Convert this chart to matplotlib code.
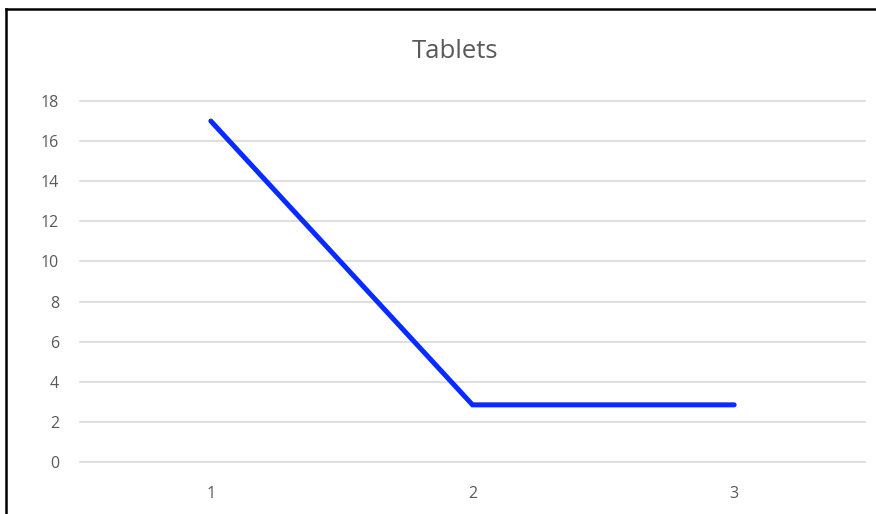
import matplotlib
matplotlib.use("Agg")
import matplotlib.pyplot as plt
from matplotlib.lines import Line2D

categories = ["1", "2", "3"]
values = [17, 2.85, 2.85]
yticks = [0, 2, 4, 6, 8, 10, 12, 14, 16, 18]

plt.rcParams['font.family'] = ['Open Sans', 'DejaVu Sans']

W, H = 876, 514
fig = plt.figure(figsize=(W / 100, H / 100), dpi=100)
ax = fig.add_axes([80 / W, 1 - 462 / H, (865 - 80) / W, (462 - 101) / H])

x = list(range(1, len(categories) + 1))
ax.plot(x, values, color="#0A2BFF", lw=3.6, solid_capstyle="round",
        solid_joinstyle="miter", zorder=3)

ax.set_xlim(0.5, 3.5)
ax.set_ylim(0, 18)
ax.set_yticks(yticks)
ax.set_xticks(x)
ax.set_xticklabels(categories)
for t in yticks:
    ax.axhline(t, color="#D9D9D9", lw=1.2, clip_on=False, zorder=1)
for s in ax.spines.values():
    s.set_visible(False)
ax.tick_params(length=0, labelsize=11.5, colors="#595959")
ax.tick_params(axis="x", pad=17)
ax.tick_params(axis="y", pad=15)

fig.text(455 / W, 1 - 52 / H, "Tablets", ha="center", va="center",
         fontsize=18.5, color="#595959")

# chart frame (left and top edges visible)
fig.add_artist(Line2D([6 / W, 6 / W], [0, 1 - 9 / H], color="black", lw=1.8,
                      transform=fig.transFigure))
fig.add_artist(Line2D([6 / W, 1], [1 - 9 / H, 1 - 9 / H], color="black", lw=1.8,
                      transform=fig.transFigure))

fig.savefig("out.png", dpi=100)
